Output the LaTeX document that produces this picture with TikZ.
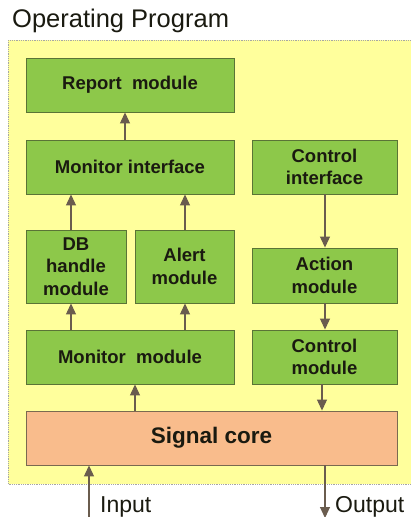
\documentclass[tikz,border=0pt]{standalone}
\usepackage{fontspec}
\setmainfont{Liberation Sans}
\usetikzlibrary{arrows.meta}
\definecolor{boxgreen}{HTML}{8DC84A}
\definecolor{boxedge}{HTML}{5A7436}
\definecolor{coreorange}{HTML}{F9BC8C}
\definecolor{coreedge}{HTML}{7A6A50}
\definecolor{bgyellow}{HTML}{FFFF9C}
\definecolor{arrowcol}{HTML}{6A5C4E}
\definecolor{txt}{HTML}{1A1A10}
\tikzset{
  gbox/.style={draw=boxedge, line width=0.9pt, fill=boxgreen, align=center,
    font=\fontsize{18.5}{22.5}\selectfont\bfseries, text=txt, inner sep=0pt},
  cbox/.style={draw=coreedge, line width=0.9pt, fill=coreorange, align=center,
    font=\fontsize{22.5}{26}\selectfont\bfseries, text=txt, inner sep=0pt},
  arr/.style={draw=arrowcol, line width=1.1pt, -{Triangle[width=10pt,length=11pt]}, color=arrowcol},
  lbl/.style={font=\fontsize{23}{26}\selectfont, text=txt, inner sep=0pt}
}
\begin{document}
\begin{tikzpicture}[x=1pt,y=-1pt]
\useasboundingbox (0,0) rectangle (410,517);
\fill[white] (0,0) rectangle (410,517);
% background panel
\filldraw[fill=bgyellow, draw=gray!70, densely dotted, line width=0.8pt] (8,40) rectangle (425,484);
\node[lbl, font=\fontsize{25.5}{28}\selectfont, anchor=base west] (title) at (12,27) {Operating Program};
% boxes
\node[gbox, minimum width=208pt, minimum height=54pt] (report) at (130,85) {Report\ \ module};
\node[gbox, minimum width=208pt, minimum height=54pt] (monint) at (130,167) {Monitor interface};
\node[gbox, minimum width=145pt, minimum height=54pt] (ctrlint) at (324.5,167) {Control\\interface};
\node[gbox, minimum width=100pt, minimum height=73pt] (db) at (76,266.5) {DB\\handle\\module};
\node[gbox, minimum width=99pt, minimum height=73pt] (alert) at (184.5,266.5) {Alert\\module};
\node[gbox, minimum width=145pt, minimum height=55pt] (action) at (324.5,275.5) {Action\\module};
\node[gbox, minimum width=208pt, minimum height=54pt] (monmod) at (130,357) {Monitor\ \ module};
\node[gbox, minimum width=145pt, minimum height=54pt] (ctrlmod) at (324.5,357) {Control\\module};
\node[cbox, minimum width=371pt, minimum height=54pt] (signal) at (211.5,438) {Signal core};
% column positions of connectors
\coordinate (xa) at (125,0);
\coordinate (xb) at (71,0);
\coordinate (xc) at (185,0);
\coordinate (xd) at (325,0);
\coordinate (xe) at (135,0);
\coordinate (xf) at (322,0);
% arrows
\draw[arr] (monint.north -| xa) -- (report.south -| xa);
\draw[arr] (db.north -| xb) -- (monint.south -| xb);
\draw[arr] (alert.north -| xc) -- (monint.south -| xc);
\draw[arr] (ctrlint.south -| xd) -- (action.north -| xd);
\draw[arr] (action.south -| xd) -- (ctrlmod.north -| xd);
\draw[arr] (monmod.north -| xb) -- (db.south -| xb);
\draw[arr] (monmod.north -| xc) -- (alert.south -| xc);
\draw[arr] (signal.north -| xe) -- (monmod.south -| xe);
\draw[arr] (ctrlmod.south -| xf) -- (signal.north -| xf);
\coordinate (inp) at (89,518);
\coordinate (outp) at (325,518);
\draw[arr] (inp) -- (signal.south -| inp);
\draw[arr] (signal.south -| outp) -- (outp);
\node[lbl, anchor=base west] (inlbl) at (100,512) {Input};
\node[lbl, anchor=base west] (outlbl) at (335,512) {Output};
\end{tikzpicture}
\end{document}
